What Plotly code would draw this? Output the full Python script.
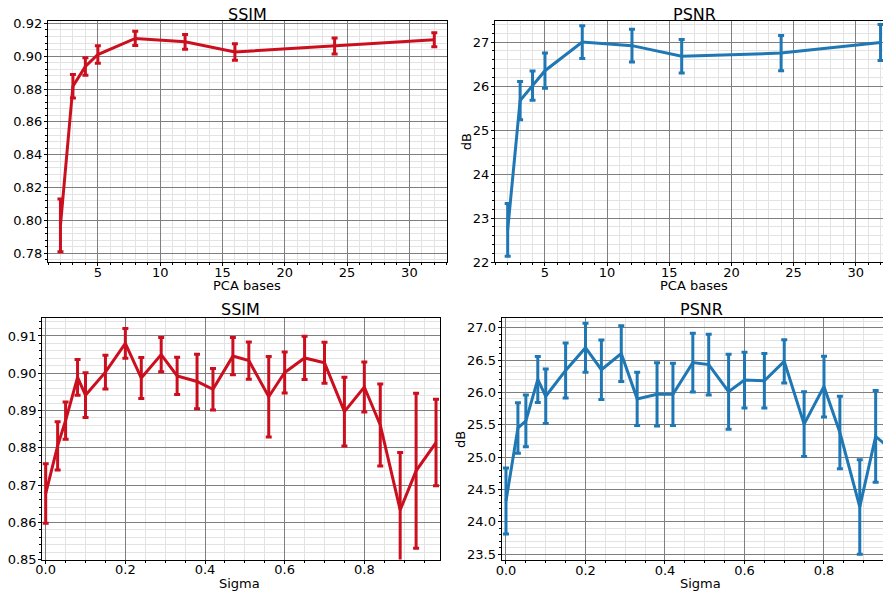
import plotly.graph_objects as go

# ---- data ----
pca_bases = [2, 3, 4, 5, 8, 12, 16, 24, 32]
pca_ssim = [0.797, 0.8817, 0.8937, 0.901, 0.9108, 0.9087, 0.9025, 0.9062, 0.910]
pca_ssim_err = [0.016, 0.0071, 0.0053, 0.0053, 0.0043, 0.0045, 0.005, 0.0049, 0.0043]
pca_psnr = [22.73, 25.67, 26.01, 26.35, 27.0, 26.92, 26.68, 26.75, 26.99]
pca_psnr_err = [0.60, 0.435, 0.334, 0.40, 0.37, 0.37, 0.38, 0.40, 0.41]

sigma = [0.0, 0.03, 0.05, 0.08, 0.1, 0.15, 0.2, 0.24, 0.29, 0.33, 0.38, 0.42,
         0.47, 0.51, 0.56, 0.6, 0.65, 0.7, 0.75, 0.8, 0.84, 0.89, 0.93, 0.98]
sigma_ssim = [0.8677, 0.8805, 0.8873, 0.8989, 0.8941, 0.9003, 0.908, 0.8987,
              0.905, 0.8993, 0.8978, 0.8957, 0.9046, 0.9034, 0.8937, 0.9002,
              0.9041, 0.9028, 0.8897, 0.8963, 0.8861, 0.8633, 0.8738, 0.8814]
sigma_ssim_err = [0.008, 0.0065, 0.005, 0.0048, 0.006, 0.0045, 0.004, 0.0055,
                  0.0046, 0.005, 0.0073, 0.0056, 0.005, 0.005, 0.0108, 0.0055,
                  0.0058, 0.0055, 0.0092, 0.0067, 0.011, 0.0154, 0.0208, 0.0116]
sigma_psnr = [24.32, 25.45, 25.56, 26.2, 25.94, 26.34, 26.69, 26.35, 26.6,
              25.9, 25.97, 25.97, 26.46, 26.43, 26.01, 26.19, 26.18, 26.48,
              25.51, 26.09, 25.38, 24.23, 25.32, 25.06]
sigma_psnr_err = [0.51, 0.39, 0.40, 0.355, 0.42, 0.425, 0.38, 0.46, 0.43, 0.41,
                  0.49, 0.48, 0.455, 0.47, 0.58, 0.43, 0.42, 0.335, 0.5, 0.47,
                  0.56, 0.73, 0.71, 0.5]

RED = "#cc0f1f"
BLUE = "#1f77b4"
W, H = 891, 595
OFF = 8  # page body margin

fig = go.Figure()

def add(x, y, e, color, xa, ya):
    fig.add_trace(go.Scatter(
        x=x, y=y, mode="lines", xaxis=xa, yaxis=ya,
        line=dict(color=color, width=3),
        error_y=dict(type="data", array=e, visible=True, color=color,
                     thickness=3, width=3),
        showlegend=False, hoverinfo="skip"))

add(pca_bases, pca_ssim, pca_ssim_err, RED, "x", "y")
add(pca_bases, pca_psnr, pca_psnr_err, BLUE, "x2", "y2")
add(sigma, sigma_ssim, sigma_ssim_err, RED, "x3", "y3")
add(sigma, sigma_psnr, sigma_psnr_err, BLUE, "x4", "y4")

FONT = dict(family="DejaVu Sans", size=13, color="black")
MAJ = "#7f7f7f"
MIN = "#e3e3e3"

def ax(domain, rng, dtick, mdtick, fmt=None, mirror=True, anchor=None, standoff=0):
    d = dict(domain=domain, range=rng, dtick=dtick, tick0=0, automargin=False,
             showline=True, linecolor="black", linewidth=1.2, mirror=mirror,
             ticks="outside", ticklen=3, tickwidth=1, tickcolor="black",
             ticklabelstandoff=standoff,
             showgrid=True, gridcolor=MAJ, gridwidth=1.2, zeroline=False,
             tickfont=FONT,
             minor=dict(dtick=mdtick, showgrid=True, gridcolor=MIN, gridwidth=1,
                        ticks="outside", ticklen=2, tickcolor="black"),
             anchor=anchor)
    if fmt:
        d["tickformat"] = fmt
    return d

def px(xp):
    return (xp - OFF) / W

def py(yp):
    return 1 - (yp - OFF) / H

XS = -5
YS = -1
fig.update_layout(
    width=W, height=H, margin=dict(l=0, r=0, t=0, b=0, autoexpand=False),
    plot_bgcolor="white", paper_bgcolor="white", font=FONT,
    xaxis=ax([px(48), px(447)], [1.0, 33.02], 5, 1, anchor="y", standoff=XS),
    yaxis=ax([py(262), py(21)], [0.7747, 0.9214], 0.02, 0.004, fmt=".2f", anchor="x", standoff=YS),
    xaxis2=ax([px(495), px(891)], [0.98, 32.84], 5, 1, anchor="y2", standoff=XS),
    yaxis2=ax([py(262), py(21)], [22.0, 27.48], 1, 0.2, mirror=False, anchor="x2", standoff=YS),
    xaxis3=ax([px(42.3), px(440)], [-0.0085, 0.99], 0.2, 0.05, fmt=".1f", anchor="y3", standoff=XS),
    yaxis3=ax([py(559.5), py(318.3)], [0.85, 0.91475], 0.01, 0.002, fmt=".2f", anchor="x3", standoff=YS),
    xaxis4=ax([px(501.7), px(891)], [-0.0108, 0.9686], 0.2, 0.05, fmt=".1f", anchor="y4", standoff=XS),
    yaxis4=ax([py(560), py(318.3)], [23.41, 27.145], 0.5, 0.1, fmt=".1f", mirror=False, anchor="x4", standoff=YS),
)

TFONT = dict(family="DejaVu Sans", size=16, color="black")
for text, xc, yc in [("SSIM", 247.3, 14.2), ("PSNR", 694.3, 14.2),
                     ("SSIM", 240.7, 309.3), ("PSNR", 701, 309.3)]:
    fig.add_annotation(text=text, x=px(xc), y=py(yc), xref="paper", yref="paper",
                       showarrow=False, font=TFONT, xanchor="center", yanchor="middle")

for text, xc, yc, ang in [("PCA bases", 246.7, 285, 0), ("PCA bases", 694.3, 285, 0),
                          ("Sigma", 240, 583.3, 0), ("Sigma", 700, 583, 0),
                          ("dB", 466.5, 141.7, -90), ("dB", 460, 440, -90)]:
    fig.add_annotation(text=text, x=px(xc), y=py(yc), xref="paper", yref="paper",
                       showarrow=False, font=FONT, textangle=ang,
                       xanchor="center", yanchor="middle")

fig.write_html("out.html")
